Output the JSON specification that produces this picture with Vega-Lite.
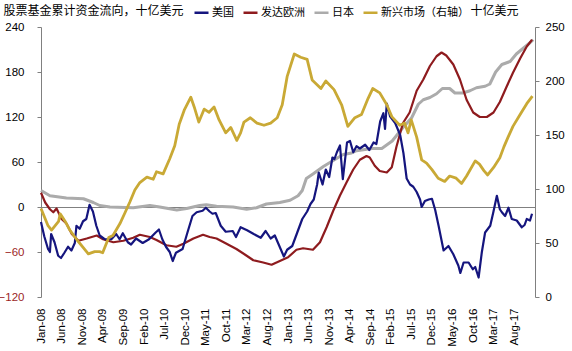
{
  "$schema": "https://vega.github.io/schema/vega-lite/v6.json",
  "width": 494,
  "height": 270,
  "autosize": {"type": "none"},
  "padding": {"left": 41, "top": 27, "right": 37, "bottom": 54},
  "datasets": {
    "us": [
      {"date":"2008-01-01","value":-20},{"date":"2008-01-25","value":-39},{"date":"2008-02-22","value":-56},{"date":"2008-03-07","value":-60},{"date":"2008-03-16","value":-36},{"date":"2008-04-10","value":-47},{"date":"2008-05-07","value":-65},{"date":"2008-05-28","value":-68},{"date":"2008-06-22","value":-61},{"date":"2008-07-19","value":-53},{"date":"2008-08-13","value":-58},{"date":"2008-09-07","value":-48},{"date":"2008-09-19","value":-25},{"date":"2008-10-13","value":-29},{"date":"2008-11-07","value":-19},{"date":"2008-12-01","value":-16},{"date":"2008-12-25","value":3},{"date":"2009-01-19","value":-6},{"date":"2009-02-13","value":-25},{"date":"2009-03-10","value":-38},{"date":"2009-04-16","value":-43},{"date":"2009-06-04","value":-43},{"date":"2009-07-10","value":-36},{"date":"2009-08-04","value":-43},{"date":"2009-08-28","value":-35},{"date":"2009-10-04","value":-47},{"date":"2009-10-28","value":-50},{"date":"2009-12-04","value":-42},{"date":"2010-01-22","value":-48},{"date":"2010-03-10","value":-43},{"date":"2010-04-28","value":-34},{"date":"2010-05-22","value":-30},{"date":"2010-06-16","value":-43},{"date":"2010-07-13","value":-53},{"date":"2010-08-10","value":-60},{"date":"2010-09-01","value":-72},{"date":"2010-09-25","value":-61},{"date":"2010-11-13","value":-56},{"date":"2010-12-19","value":-34},{"date":"2011-01-25","value":-12},{"date":"2011-02-25","value":-7},{"date":"2011-04-10","value":-5},{"date":"2011-05-04","value":-1},{"date":"2011-06-01","value":-6},{"date":"2011-06-22","value":-9},{"date":"2011-07-16","value":-8},{"date":"2011-08-22","value":-25},{"date":"2011-09-28","value":-33},{"date":"2011-11-19","value":-32},{"date":"2011-12-13","value":-40},{"date":"2012-01-16","value":-27},{"date":"2012-03-04","value":-31},{"date":"2012-04-22","value":-36},{"date":"2012-06-13","value":-41},{"date":"2012-07-19","value":-32},{"date":"2012-08-25","value":-42},{"date":"2012-09-25","value":-38},{"date":"2012-11-07","value":-56},{"date":"2012-12-01","value":-66},{"date":"2012-12-25","value":-57},{"date":"2013-02-01","value":-52},{"date":"2013-03-10","value":-34},{"date":"2013-04-16","value":-16},{"date":"2013-05-22","value":-6},{"date":"2013-06-16","value":4},{"date":"2013-07-10","value":10},{"date":"2013-08-04","value":30},{"date":"2013-08-16","value":46},{"date":"2013-09-13","value":30},{"date":"2013-10-07","value":50},{"date":"2013-11-01","value":40},{"date":"2013-11-25","value":66},{"date":"2013-12-10","value":64},{"date":"2013-12-28","value":73},{"date":"2014-01-20","value":82},{"date":"2014-02-10","value":37},{"date":"2014-03-13","value":86},{"date":"2014-04-04","value":88},{"date":"2014-04-28","value":73},{"date":"2014-05-22","value":81},{"date":"2014-06-16","value":78},{"date":"2014-07-25","value":83},{"date":"2014-08-25","value":76},{"date":"2014-09-25","value":86},{"date":"2014-10-16","value":84},{"date":"2014-11-13","value":114},{"date":"2014-12-07","value":125},{"date":"2014-12-19","value":104},{"date":"2015-01-01","value":138},{"date":"2015-01-25","value":121},{"date":"2015-03-04","value":112},{"date":"2015-04-10","value":96},{"date":"2015-05-04","value":72},{"date":"2015-05-28","value":38},{"date":"2015-06-22","value":30},{"date":"2015-07-16","value":27},{"date":"2015-08-10","value":20},{"date":"2015-09-04","value":10},{"date":"2015-09-16","value":0},{"date":"2015-10-10","value":8},{"date":"2015-11-07","value":10},{"date":"2015-12-01","value":11},{"date":"2015-12-25","value":-4},{"date":"2016-01-19","value":-25},{"date":"2016-02-25","value":-58},{"date":"2016-04-01","value":-52},{"date":"2016-05-07","value":-63},{"date":"2016-06-13","value":-78},{"date":"2016-06-28","value":-88},{"date":"2016-07-22","value":-74},{"date":"2016-08-28","value":-74},{"date":"2016-09-28","value":-83},{"date":"2016-10-16","value":-80},{"date":"2016-11-10","value":-94},{"date":"2016-12-04","value":-60},{"date":"2016-12-28","value":-34},{"date":"2017-02-04","value":-25},{"date":"2017-02-28","value":-6},{"date":"2017-03-25","value":15},{"date":"2017-04-16","value":-3},{"date":"2017-05-01","value":-7},{"date":"2017-05-25","value":-12},{"date":"2017-06-19","value":-1},{"date":"2017-07-13","value":-16},{"date":"2017-08-19","value":-18},{"date":"2017-09-25","value":-27},{"date":"2017-10-16","value":-24},{"date":"2017-11-01","value":-16},{"date":"2017-11-25","value":-18},{"date":"2017-12-10","value":-9}
    ],
    "eu": [
      {"date":"2008-01-01","value":19},{"date":"2008-02-01","value":6},{"date":"2008-03-07","value":-3},{"date":"2008-04-01","value":-7},{"date":"2008-04-25","value":-2},{"date":"2008-06-01","value":-16},{"date":"2008-07-07","value":-22},{"date":"2008-08-16","value":-36},{"date":"2008-10-04","value":-45},{"date":"2008-12-04","value":-42},{"date":"2009-02-16","value":-38},{"date":"2009-04-04","value":-43},{"date":"2009-06-19","value":-47},{"date":"2009-09-01","value":-45},{"date":"2009-11-13","value":-41},{"date":"2010-01-01","value":-37},{"date":"2010-03-16","value":-40},{"date":"2010-05-04","value":-44},{"date":"2010-07-16","value":-51},{"date":"2010-09-28","value":-53},{"date":"2010-11-19","value":-49},{"date":"2011-02-01","value":-42},{"date":"2011-04-13","value":-37},{"date":"2011-06-01","value":-40},{"date":"2011-07-22","value":-42},{"date":"2011-10-04","value":-49},{"date":"2011-12-16","value":-56},{"date":"2012-03-01","value":-65},{"date":"2012-04-19","value":-71},{"date":"2012-07-01","value":-74},{"date":"2012-09-01","value":-77},{"date":"2012-11-01","value":-72},{"date":"2013-01-01","value":-67},{"date":"2013-03-04","value":-57},{"date":"2013-04-22","value":-55},{"date":"2013-07-04","value":-57},{"date":"2013-08-25","value":-47},{"date":"2013-10-13","value":-27},{"date":"2013-12-01","value":-5},{"date":"2014-01-19","value":15},{"date":"2014-03-10","value":33},{"date":"2014-04-28","value":50},{"date":"2014-06-16","value":63},{"date":"2014-08-04","value":68},{"date":"2014-08-28","value":66},{"date":"2014-10-04","value":55},{"date":"2014-11-10","value":48},{"date":"2015-01-01","value":46},{"date":"2015-02-07","value":53},{"date":"2015-03-13","value":80},{"date":"2015-05-01","value":112},{"date":"2015-06-19","value":126},{"date":"2015-08-10","value":155},{"date":"2015-09-28","value":170},{"date":"2015-11-16","value":188},{"date":"2016-01-04","value":201},{"date":"2016-02-10","value":206},{"date":"2016-03-16","value":202},{"date":"2016-05-07","value":190},{"date":"2016-06-25","value":170},{"date":"2016-08-13","value":143},{"date":"2016-10-01","value":126},{"date":"2016-11-19","value":120},{"date":"2017-01-10","value":120},{"date":"2017-02-28","value":126},{"date":"2017-04-16","value":140},{"date":"2017-06-04","value":160},{"date":"2017-07-22","value":179},{"date":"2017-09-13","value":198},{"date":"2017-11-01","value":214},{"date":"2017-12-10","value":223}
    ],
    "jp": [
      {"date":"2008-01-01","value":22},{"date":"2008-03-07","value":15},{"date":"2008-07-07","value":12},{"date":"2008-11-10","value":11},{"date":"2009-01-22","value":6},{"date":"2009-03-10","value":2},{"date":"2009-05-25","value":0},{"date":"2009-11-13","value":-1},{"date":"2010-03-16","value":2},{"date":"2010-05-28","value":0},{"date":"2010-10-01","value":-4},{"date":"2010-12-13","value":-2},{"date":"2011-03-19","value":2},{"date":"2011-05-07","value":3},{"date":"2011-07-22","value":1},{"date":"2011-11-22","value":0},{"date":"2012-03-01","value":-3},{"date":"2012-05-13","value":-1},{"date":"2012-07-25","value":4},{"date":"2012-11-01","value":6},{"date":"2013-01-16","value":9},{"date":"2013-03-16","value":15},{"date":"2013-04-16","value":22},{"date":"2013-05-16","value":38},{"date":"2013-07-04","value":44},{"date":"2013-09-19","value":54},{"date":"2013-12-01","value":62},{"date":"2014-02-13","value":70},{"date":"2014-04-16","value":72},{"date":"2014-05-22","value":75},{"date":"2014-09-13","value":78},{"date":"2014-11-25","value":78},{"date":"2015-02-10","value":88},{"date":"2015-04-22","value":104},{"date":"2015-07-04","value":119},{"date":"2015-08-22","value":137},{"date":"2015-09-28","value":143},{"date":"2015-11-16","value":146},{"date":"2016-01-04","value":151},{"date":"2016-02-16","value":158},{"date":"2016-04-10","value":158},{"date":"2016-05-19","value":152},{"date":"2016-07-16","value":152},{"date":"2016-09-07","value":155},{"date":"2016-10-25","value":159},{"date":"2016-12-28","value":161},{"date":"2017-02-01","value":164},{"date":"2017-03-16","value":180},{"date":"2017-05-01","value":190},{"date":"2017-07-01","value":194},{"date":"2017-08-16","value":204},{"date":"2017-09-25","value":210},{"date":"2017-11-25","value":219},{"date":"2017-12-19","value":223}
    ],
    "em": [
      {"date":"2008-01-01","value":82},{"date":"2008-02-22","value":66},{"date":"2008-03-19","value":62},{"date":"2008-05-10","value":70},{"date":"2008-05-22","value":77},{"date":"2008-06-07","value":74},{"date":"2008-06-28","value":70},{"date":"2008-08-01","value":62},{"date":"2008-09-22","value":53},{"date":"2008-11-07","value":46},{"date":"2008-12-16","value":40},{"date":"2009-02-01","value":42},{"date":"2009-03-10","value":42},{"date":"2009-04-01","value":41},{"date":"2009-05-16","value":55},{"date":"2009-06-16","value":57},{"date":"2009-08-07","value":68},{"date":"2009-09-13","value":78},{"date":"2009-10-19","value":88},{"date":"2009-11-25","value":99},{"date":"2010-01-01","value":106},{"date":"2010-02-22","value":111},{"date":"2010-04-10","value":109},{"date":"2010-05-04","value":116},{"date":"2010-06-22","value":114},{"date":"2010-08-10","value":128},{"date":"2010-09-16","value":140},{"date":"2010-10-19","value":160},{"date":"2010-11-25","value":173},{"date":"2011-01-13","value":185},{"date":"2011-02-07","value":176},{"date":"2011-03-13","value":162},{"date":"2011-04-22","value":174},{"date":"2011-05-28","value":171},{"date":"2011-07-04","value":176},{"date":"2011-08-10","value":164},{"date":"2011-09-28","value":152},{"date":"2011-11-04","value":157},{"date":"2011-12-19","value":145},{"date":"2012-01-16","value":152},{"date":"2012-02-10","value":162},{"date":"2012-03-28","value":166},{"date":"2012-05-16","value":161},{"date":"2012-07-07","value":159},{"date":"2012-08-25","value":161},{"date":"2012-10-13","value":166},{"date":"2012-11-19","value":178},{"date":"2012-12-25","value":204},{"date":"2013-02-16","value":225},{"date":"2013-04-04","value":222},{"date":"2013-05-22","value":220},{"date":"2013-06-28","value":201},{"date":"2013-09-01","value":193},{"date":"2013-10-07","value":200},{"date":"2013-12-07","value":192},{"date":"2014-02-01","value":178},{"date":"2014-03-19","value":158},{"date":"2014-05-10","value":166},{"date":"2014-06-28","value":169},{"date":"2014-08-16","value":184},{"date":"2014-09-19","value":193},{"date":"2014-11-10","value":189},{"date":"2015-01-01","value":178},{"date":"2015-02-07","value":167},{"date":"2015-03-01","value":164},{"date":"2015-04-07","value":159},{"date":"2015-05-13","value":161},{"date":"2015-06-07","value":152},{"date":"2015-07-01","value":164},{"date":"2015-08-10","value":148},{"date":"2015-09-16","value":127},{"date":"2015-10-22","value":124},{"date":"2015-12-01","value":118},{"date":"2016-01-16","value":110},{"date":"2016-03-04","value":107},{"date":"2016-04-10","value":112},{"date":"2016-05-28","value":110},{"date":"2016-07-07","value":105},{"date":"2016-08-13","value":112},{"date":"2016-10-16","value":126},{"date":"2016-11-16","value":123},{"date":"2016-12-19","value":117},{"date":"2017-01-16","value":113},{"date":"2017-03-01","value":120},{"date":"2017-04-16","value":129},{"date":"2017-05-16","value":139},{"date":"2017-06-16","value":148},{"date":"2017-07-22","value":158},{"date":"2017-09-13","value":169},{"date":"2017-11-01","value":179},{"date":"2017-12-13","value":186}
    ]
  },
  "config": {
    "view": {"stroke": null},
    "axis": {
      "grid": false,
      "labelFont": "Liberation Sans",
      "labelFontSize": 11.5,
      "labelColor": "#000000",
      "titleFont": "Noto Sans CJK SC",
      "titleFontSize": 12,
      "titleFontWeight": "normal",
      "titleColor": "#000000",
      "domainColor": "#808080",
      "tickColor": "#808080"
    },
    "legend": {
      "orient": "none",
      "legendX": 152,
      "legendY": -23,
      "direction": "horizontal",
      "title": null,
      "padding": 0,
      "symbolType": "stroke",
      "symbolSize": 196,
      "symbolStrokeWidth": 2.5,
      "labelFont": "Noto Sans CJK SC",
      "labelFontSize": 11,
      "labelColor": "#000000",
      "labelOffset": 2,
      "columnPadding": 8
    },
    "line": {"strokeJoin": "round"}
  },
  "layer": [
    {
      "encoding": {
        "x": {
          "field": "date",
          "type": "temporal",
          "scale": {"type": "utc", "domain": [{"year": 2008, "month": 1, "date": 1, "utc": true}, {"year": 2018, "month": 1, "date": 1, "utc": true}]},
          "axis": {
            "orient": "bottom",
            "title": null,
            "domain": false,
            "ticks": false,
            "tickSize": 0,
            "labelAngle": -90,
            "labelPadding": 11,
            "labelExpr": "utcFormat(datum.value, '%b-%y')",
            "labelOverlap": false,
            "values": [
              {"year": 2008, "month": 1, "date": 1, "utc": true},
              {"year": 2008, "month": 6, "date": 1, "utc": true},
              {"year": 2008, "month": 11, "date": 1, "utc": true},
              {"year": 2009, "month": 4, "date": 1, "utc": true},
              {"year": 2009, "month": 9, "date": 1, "utc": true},
              {"year": 2010, "month": 2, "date": 1, "utc": true},
              {"year": 2010, "month": 7, "date": 1, "utc": true},
              {"year": 2010, "month": 12, "date": 1, "utc": true},
              {"year": 2011, "month": 5, "date": 1, "utc": true},
              {"year": 2011, "month": 10, "date": 1, "utc": true},
              {"year": 2012, "month": 3, "date": 1, "utc": true},
              {"year": 2012, "month": 8, "date": 1, "utc": true},
              {"year": 2013, "month": 1, "date": 1, "utc": true},
              {"year": 2013, "month": 6, "date": 1, "utc": true},
              {"year": 2013, "month": 11, "date": 1, "utc": true},
              {"year": 2014, "month": 4, "date": 1, "utc": true},
              {"year": 2014, "month": 9, "date": 1, "utc": true},
              {"year": 2015, "month": 2, "date": 1, "utc": true},
              {"year": 2015, "month": 7, "date": 1, "utc": true},
              {"year": 2015, "month": 12, "date": 1, "utc": true},
              {"year": 2016, "month": 5, "date": 1, "utc": true},
              {"year": 2016, "month": 10, "date": 1, "utc": true},
              {"year": 2017, "month": 3, "date": 1, "utc": true},
              {"year": 2017, "month": 8, "date": 1, "utc": true}
            ]
          }
        },
        "y": {
          "field": "value",
          "type": "quantitative",
          "scale": {"domain": [-120, 240], "nice": false, "zero": false},
          "axis": {
            "orient": "left",
            "values": [-120, -60, 0, 60, 120, 180, 240],
            "tickSize": 4,
            "labelPadding": 13,
            "labelColor": {"condition": {"test": "datum.value < 0", "value": "#9c1f1f"}, "value": "#000000"},
            "grid": true,
            "gridColor": "#808080",
            "gridWidth": 1,
            "gridOpacity": {"condition": {"test": "datum.value === 0", "value": 1}, "value": 0},
            "title": "股票基金累计资金流向，十亿美元",
            "titleAngle": 0,
            "titleAlign": "left",
            "titleBaseline": "middle",
            "titleX": -38,
            "titleY": -17
          }
        }
      },
      "layer": [
        {
          "data": {"name": "jp"},
          "mark": {"type": "line", "strokeWidth": 3},
          "encoding": {
            "color": {
              "datum": "日本",
              "type": "nominal",
              "scale": {"domain": ["美国", "发达欧洲", "日本", "新兴市场（右轴）"], "range": ["#15157e", "#8e1b1e", "#ababab", "#c9a935"]}
            }
          }
        },
        {
          "data": {"name": "eu"},
          "mark": {"type": "line", "strokeWidth": 2.2},
          "encoding": {"color": {"datum": "发达欧洲", "type": "nominal"}}
        },
        {
          "data": {"name": "us"},
          "mark": {"type": "line", "strokeWidth": 2.2},
          "encoding": {"color": {"datum": "美国", "type": "nominal"}}
        }
      ]
    },
    {
      "data": {"name": "em"},
      "mark": {"type": "line", "strokeWidth": 2.8},
      "encoding": {
        "x": {
          "field": "date",
          "type": "temporal",
          "scale": {"type": "utc", "domain": [{"year": 2008, "month": 1, "date": 1, "utc": true}, {"year": 2018, "month": 1, "date": 1, "utc": true}]},
          "axis": {"orient": "bottom", "title": null, "labels": false, "domain": false, "ticks": false, "values": []}
        },
        "y": {
          "field": "value",
          "type": "quantitative",
          "scale": {"domain": [0, 250], "nice": false},
          "axis": {
            "orient": "right",
            "values": [0, 50, 100, 150, 200, 250],
            "tickSize": 4,
            "labelPadding": 6,
            "title": "十亿美元",
            "titleAngle": 0,
            "titleAlign": "left",
            "titleBaseline": "middle",
            "titleX": -65,
            "titleY": -17
          }
        },
        "color": {"datum": "新兴市场（右轴）", "type": "nominal"}
      }
    }
  ],
  "resolve": {"scale": {"x": "independent", "y": "independent"}, "axis": {"x": "independent"}}
}
